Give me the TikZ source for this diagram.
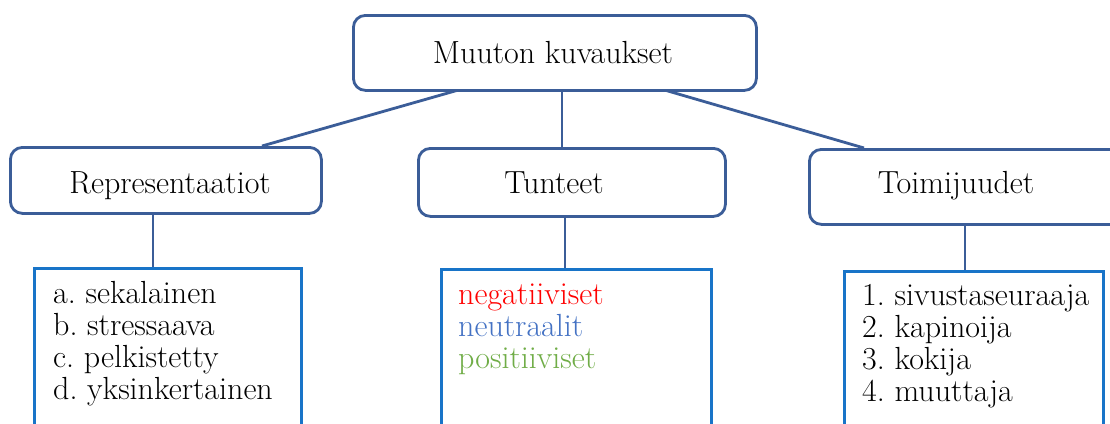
\documentclass[tikz,border=0pt]{standalone}
\usepackage{xcolor}
\definecolor{dkblue}{HTML}{3B5D98}
\definecolor{ltblue}{HTML}{1874C8}
\definecolor{negred}{HTML}{FF0000}
\definecolor{neublue}{HTML}{4472C4}
\definecolor{posgreen}{HTML}{70AD47}
\frenchspacing
\begin{document}
\begin{tikzpicture}[x=1pt,y=1pt,
  catbox/.style={draw=dkblue,line width=2.8pt,rounded corners=12pt,fill=white,inner sep=0pt,anchor=north west},
  listbox/.style={draw=ltblue,line width=2.8pt,fill=white,inner sep=0pt,anchor=north west},
  lbl/.style={font=\fontsize{32}{32}\selectfont,inner sep=0pt,anchor=base},
  listtext/.style={font=\fontsize{32}{32}\selectfont,inner sep=0pt,align=left,anchor=north west},
  conn/.style={draw=dkblue,line width=2.8pt}]
\useasboundingbox (0,0) rectangle (1110,-423);
\clip (0,0) rectangle (1110,-423);
\fill[white] (0,0) rectangle (1110,-423);
% connectors (drawn first)
\coordinate (tl) at (462,-89);
\coordinate (tm) at (562,-89);
\coordinate (tr) at (661,-89);
\coordinate (le) at (262,-146);
\coordinate (me) at (562,-147);
\coordinate (re) at (864,-148);
\draw[conn] (tl) -- (le);
\draw[conn] (tm) -- (me);
\draw[conn] (tr) -- (re);
% top box
\node[catbox,minimum width=403,minimum height=75] (top) at (352,-14) {};
\node[lbl] (toptxt) at (553,-63) {Muuton kuvaukset};
% category boxes
\node[catbox,minimum width=311,minimum height=66] (rep) at (9,-146) {};
\node[lbl] (reptxt) at (170,-193) {Representaatiot};
\node[catbox,minimum width=307,minimum height=68] (tun) at (417,-147) {};
\node[lbl] (tuntxt) at (554,-193) {Tunteet};
\node[catbox,minimum width=330,minimum height=75] (toi) at (808,-148) {};
\node[lbl] (toitxt) at (956,-193) {Toimijuudet};
% list boxes
\node[listbox,minimum width=267,minimum height=180] (lrep) at (33,-267) {};
\node[listbox,minimum width=270,minimum height=180] (ltun) at (440,-268) {};
\node[listbox,minimum width=259,minimum height=180] (ltoi) at (843,-270) {};
% vertical connectors
\draw[conn] (rep.south -| 153,0) -- (lrep.north -| 153,0);
\draw[conn] (tun.south -| 565,0) -- (ltun.north -| 565,0);
\draw[conn] (toi.south -| 965,0) -- (ltoi.north -| 965,0);
% list texts
\node[listtext] (replist) at (53,-281) {a. sekalainen\\b. stressaava\\c. pelkistetty\\d. yksinkertainen};
\node[listtext] (tunlist) at (458,-284) {\textcolor{negred}{negatiiviset}\\\textcolor{neublue}{neutraalit}\\\textcolor{posgreen}{positiiviset}};
\node[listtext] (toilist) at (862,-284) {1. sivustaseuraaja\\2. kapinoija\\3. kokija\\4. muuttaja};
\end{tikzpicture}
\end{document}
